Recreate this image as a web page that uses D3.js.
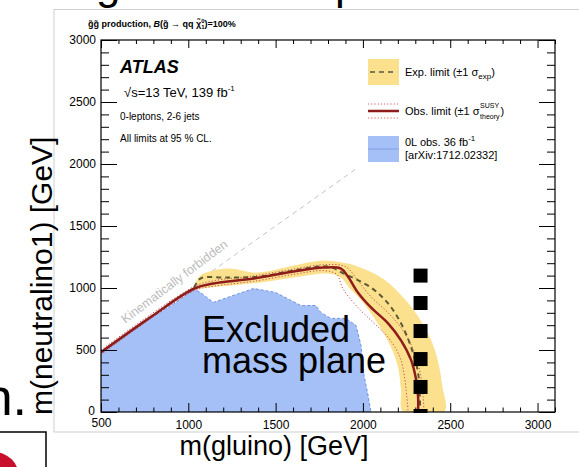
<!DOCTYPE html>
<html><head><meta charset="utf-8">
<script src="https://cdn.jsdelivr.net/npm/d3@7"></script>
<style>body{margin:0;background:#fff;overflow:hidden}svg{display:block;font-family:"Liberation Sans",Arial,Helvetica,sans-serif}</style>
</head><body>
<svg id="c" width="579" height="467"></svg>
<script>
// ---------- data ----------
const xTicks = [500, 1000, 1500, 2000, 2500, 3000];
const yTicks = [0, 500, 1000, 1500, 2000, 2500, 3000];
const xMinor = d3.range(500, 3101, 100);
const yMinor = d3.range(0, 3001, 100);
// 0L obs. 36 fb-1 excluded region [m(gluino), m(neutralino1)]
const blueObs36 = [[500,0],[500,470],[609,585],[782,755],[925,880],[1034,992],[1069,964],[1144,884],[1241,932],[1374,996],[1500,964],[1644,859],[1730,859],[1759,803],[1816,755],[1902,755],[1960,699],[1989,538],[2006,297],[2029,137],[2046,0]];
// expected +-1 sigma band edges
const expBandUp = [[1034,1012],[1069,1100],[1224,1157],[1397,1124],[1603,1181],[1776,1221],[1880,1205],[1971,1173],[2121,1068],[2236,916],[2316,771],[2391,578],[2431,402],[2454,217],[2466,0]];
const expBandDown = [[1034,990],[1126,1004],[1414,1044],[1603,1084],[1799,1116],[1874,1084],[1920,1004],[1971,932],[2063,763],[2161,522],[2201,361],[2218,177],[2230,0]];
const expLimit = [[1034,1004],[1069,1076],[1224,1084],[1414,1092],[1603,1141],[1799,1173],[1891,1116],[2046,1004],[2144,876],[2218,715],[2276,522],[2316,313],[2328,0]];
const obsLimit = [[500,482],[782,763],[1034,996],[1144,1036],[1374,1076],[1603,1133],[1776,1165],[1874,1157],[1914,1092],[1971,964],[2046,843],[2144,715],[2218,578],[2276,418],[2305,257],[2316,120],[2316,0]];
const obsTheoryUp = [[500,500],[1034,1012],[1144,1058],[1374,1098],[1603,1152],[1776,1188],[1900,1172],[1971,1060],[2046,930],[2144,800],[2218,680],[2290,500],[2330,300],[2345,120],[2350,0]];
const obsTheoryDown = [[500,462],[1034,978],[1144,1014],[1374,1054],[1603,1110],[1776,1140],[1850,1110],[1885,996],[1971,843],[2060,720],[2144,602],[2218,418],[2259,0]];
const kinematicLine = [[1050,1050],[1960,1960]];
const markerGluino = 2330;
const markerNeutralino = [1100, 879, 653, 427, 202];

// ---------- layout ----------
const svg = d3.select("#c");
const L = 101, R = 555, T = 40, B = 412;
const x = d3.scaleLinear().domain([500, 3100]).range([L, R]);
const y = d3.scaleLinear().domain([0, 3000]).range([B, T]);
const line = d3.line().x(d => x(d[0])).y(d => y(d[1]));
const smooth = d3.line().x(d => x(d[0])).y(d => y(d[1])).curve(d3.curveCatmullRom.alpha(0.5));
const fmt = d3.format("d");

// slide background pieces
svg.append("text").attr("x", 96).attr("y", -1).attr("font-size", 44).text("g");
svg.append("text").attr("x", 335).attr("y", -1).attr("font-size", 44).text("p");
svg.append("text").attr("x", 27).attr("y", 415).attr("font-size", 52).attr("text-anchor", "end").text("n.");
svg.append("rect").attr("x", -2).attr("y", 432).attr("width", 48).attr("height", 40)
  .attr("fill", "none").attr("stroke", "#000").attr("stroke-width", 1.5);
svg.append("circle").attr("cx", -6).attr("cy", 477).attr("r", 25).attr("fill", "#c8102e");

// embedded plot image border
svg.append("rect").attr("x", 54).attr("y", 9.5).attr("width", 540).attr("height", 422.5)
  .attr("fill", "#fff").attr("stroke", "#cfcfcf").attr("stroke-width", 1);

const defs = svg.append("defs");
defs.append("clipPath").attr("id", "pc").append("rect").attr("x", L).attr("y", T).attr("width", R - L).attr("height", B - T);
const g = svg.append("g").attr("clip-path", "url(#pc)");

// blue region
g.append("path").attr("d", line(blueObs36) + "Z").attr("fill", "#a5c0f6").attr("stroke", "#6f92e8")
  .attr("stroke-width", 1).attr("stroke-dasharray", "3,2");
// kinematic diagonal
g.append("path").attr("d", line(kinematicLine)).attr("stroke", "#c4c4c4").attr("stroke-width", 1)
  .attr("stroke-dasharray", "5,4").attr("fill", "none");
// yellow band
g.append("path").attr("d", smooth(expBandUp.concat(expBandDown.slice().reverse())) + "Z")
  .attr("fill", "#fbe08e").attr("stroke", "none");
// theory dotted
[obsTheoryUp, obsTheoryDown].forEach(a => g.append("path").attr("d", smooth(a)).attr("fill", "none")
  .attr("stroke", "#c8504f").attr("stroke-width", 1).attr("stroke-dasharray", "1.2,2"));
// expected dashed
g.append("path").attr("d", smooth(expLimit)).attr("fill", "none").attr("stroke", "#5e5a33")
  .attr("stroke-width", 2).attr("stroke-dasharray", "5,4");
// observed
g.append("path").attr("d", smooth(obsLimit)).attr("fill", "none").attr("stroke", "#8e1c1c").attr("stroke-width", 2.5);

// kinematically forbidden text
svg.append("text").attr("transform", `translate(${x(935)},${y(1025)}) rotate(-37)`)
  .attr("text-anchor", "middle").attr("font-size", 12.5).attr("fill", "#bcbcbc").text("Kinematically forbidden");

// axes
function ax(gen, tr) {
  const a = svg.append("g").attr("transform", tr).call(gen);
  a.select(".domain").remove();
  a.selectAll("line").attr("stroke", "#000");
  return a;
}
const bx = ax(d3.axisBottom(x).tickValues(xTicks).tickFormat(fmt).tickSizeInner(-9).tickSizeOuter(0).tickPadding(8), `translate(0,${B})`);
bx.selectAll("text").attr("font-size", 12).attr("fill", "#000").attr("font-family", "Liberation Sans, Arial");
bx.selectAll(".tick").filter(d => d === 500).select("text").attr("dy", "0.55em");
ax(d3.axisBottom(x).tickValues(xMinor.filter(v => v % 500)).tickSizeInner(-4.5).tickSizeOuter(0).tickFormat(""), `translate(0,${B})`);
ax(d3.axisTop(x).tickValues(xTicks).tickSizeInner(-8).tickSizeOuter(0).tickFormat(""), `translate(0,${T})`);
ax(d3.axisTop(x).tickValues(xMinor.filter(v => v % 500)).tickSizeInner(-4).tickSizeOuter(0).tickFormat(""), `translate(0,${T})`);
const ly = ax(d3.axisLeft(y).tickValues(yTicks).tickFormat(fmt).tickSizeInner(-16).tickSizeOuter(0).tickPadding(5), `translate(${L},0)`);
ly.selectAll("text").attr("font-size", 12).attr("fill", "#000").attr("font-family", "Liberation Sans, Arial");
ly.selectAll(".tick").filter(d => d === 0).select("text").attr("dy", "0.2em").attr("x", -6);
ax(d3.axisLeft(y).tickValues(yMinor.filter(v => v % 500)).tickSizeInner(-8).tickSizeOuter(0).tickFormat(""), `translate(${L},0)`);
ax(d3.axisRight(y).tickValues(yTicks).tickSizeInner(-16).tickSizeOuter(0).tickFormat(""), `translate(${R},0)`);
ax(d3.axisRight(y).tickValues(yMinor.filter(v => v % 500)).tickSizeInner(-8).tickSizeOuter(0).tickFormat(""), `translate(${R},0)`);
svg.append("rect").attr("x", L).attr("y", T).attr("width", R - L).attr("height", B - T)
  .attr("fill", "none").attr("stroke", "#000").attr("stroke-width", 1.2);

// title above frame
const tt = svg.append("text").attr("x", 88).attr("y", 27).attr("font-size", 9).attr("font-weight", "bold");
tt.append("tspan").text("g\u0303g\u0303 production,  ");
tt.append("tspan").attr("font-style", "italic").text("B");
tt.append("tspan").text("(g\u0303 \u2192 qq \u03C7\u0303");
tt.append("tspan").attr("font-size", 6).attr("dy", -4).text("0");
tt.append("tspan").attr("font-size", 6).attr("dy", 6).attr("dx", -3.3).text("1");
tt.append("tspan").attr("dy", -2).text(")=100%");

// ATLAS block
svg.append("text").attr("x", 120).attr("y", 73).attr("font-size", 18).attr("font-weight", "bold").attr("font-style", "italic").text("ATLAS");
const s1 = svg.append("text").attr("x", 124).attr("y", 97).attr("font-size", 13);
s1.append("tspan").text("\u221As=13 TeV, 139 fb");
s1.append("tspan").attr("font-size", 8).attr("dy", -6).text("-1");
svg.append("text").attr("x", 120).attr("y", 120).attr("font-size", 10).text("0-leptons, 2-6 jets");
svg.append("text").attr("x", 120).attr("y", 142).attr("font-size", 10).text("All limits at 95 % CL.");

// legend
const lx = 368, lw = 31;
svg.append("rect").attr("x", lx).attr("y", 59).attr("width", lw).attr("height", 26).attr("fill", "#fbe08e");
svg.append("line").attr("x1", lx + 2).attr("x2", lx + lw - 2).attr("y1", 72).attr("y2", 72).attr("stroke", "#7d7a5e").attr("stroke-width", 2).attr("stroke-dasharray", "5,4");
const t1 = svg.append("text").attr("x", 405).attr("y", 76).attr("font-size", 11);
t1.append("tspan").text("Exp. limit (\u00B11 \u03C3");
t1.append("tspan").attr("font-size", 8).attr("dy", 3).text("exp");
t1.append("tspan").attr("dy", -3).text(")");
svg.append("line").attr("x1", lx).attr("x2", lx + lw).attr("y1", 111).attr("y2", 111).attr("stroke", "#8e1c1c").attr("stroke-width", 2.5);
[104, 118].forEach(v => svg.append("line").attr("x1", lx).attr("x2", lx + lw).attr("y1", v).attr("y2", v)
  .attr("stroke", "#d06060").attr("stroke-width", 1).attr("stroke-dasharray", "1.2,2"));
const t2 = svg.append("text").attr("x", 405).attr("y", 115).attr("font-size", 11);
t2.append("tspan").text("Obs. limit (\u00B11 \u03C3");
const t2w = t2.node().getComputedTextLength();
svg.append("text").attr("x", 405 + t2w + 0.5).attr("y", 108).attr("font-size", 7).text("SUSY");
svg.append("text").attr("x", 405 + t2w + 0.5).attr("y", 119).attr("font-size", 7).text("theory");
svg.append("text").attr("x", 405 + t2w + 21).attr("y", 115).attr("font-size", 11).text(")");
svg.append("rect").attr("x", lx).attr("y", 136).attr("width", lw).attr("height", 26).attr("fill", "#a5c0f6");
svg.append("line").attr("x1", lx).attr("x2", lx + lw).attr("y1", 149).attr("y2", 149).attr("stroke", "#7f9fe6").attr("stroke-width", 1);
const t3 = svg.append("text").attr("x", 405).attr("y", 146).attr("font-size", 11);
t3.append("tspan").text("0L obs. 36 fb");
t3.append("tspan").attr("font-size", 8).attr("dy", -5).text("-1");
svg.append("text").attr("x", 405).attr("y", 159).attr("font-size", 11).text("[arXiv:1712.02332]");

// slide annotation: excluded text and black squares
svg.append("text").attr("x", 202).attr("y", 342).attr("font-size", 36).text("Excluded");
svg.append("text").attr("x", 202).attr("y", 373).attr("font-size", 36).text("mass plane");
svg.selectAll("rect.mk").data(markerNeutralino).enter().append("rect").attr("class", "mk")
  .attr("x", x(markerGluino) - 7).attr("y", d => y(d) - 7).attr("width", 14).attr("height", 14).attr("fill", "#000");
svg.append("rect").attr("x", x(markerGluino) - 7).attr("y", y(0) - 3).attr("width", 14).attr("height", 4).attr("fill", "#000");

// axis titles (slide)
svg.append("text").attr("transform", "translate(52,415) rotate(-90)").attr("font-size", 30).text("m(neutralino1) [GeV]");
svg.append("text").attr("x", 274).attr("y", 455).attr("text-anchor", "middle").attr("font-size", 27).text("m(gluino) [GeV]");
</script>
</body></html>
